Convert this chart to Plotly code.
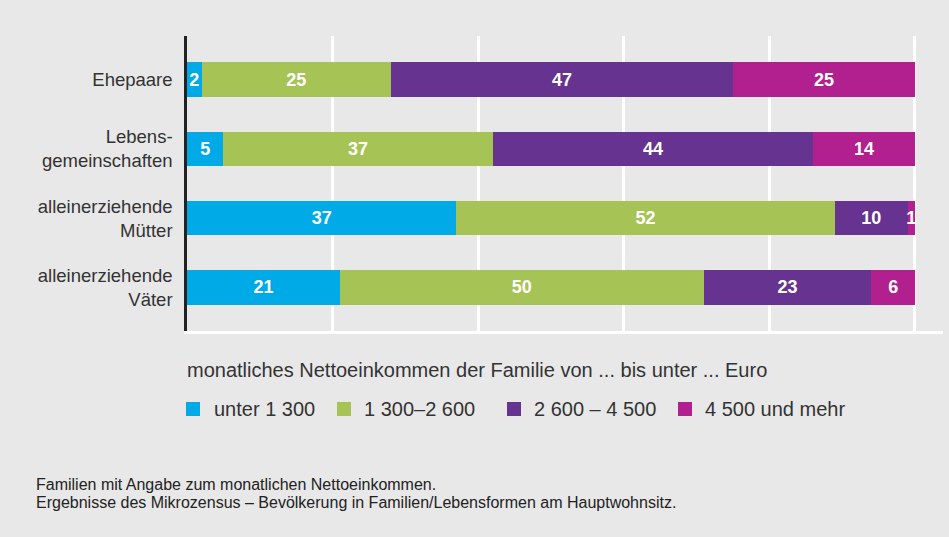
import plotly.graph_objects as go

categories = ["Ehepaare", "Lebens-<br>gemeinschaften", "alleinerziehende<br>Mütter", "alleinerziehende<br>Väter"]
series_names = ["unter 1 300", "1 300–2 600", "2 600 – 4 500", "4 500 und mehr"]
colors = ["#00aae7", "#a6c356", "#663490", "#b21f8f"]

# bar lengths (percent)
unter_1300 = [2, 5, 37, 21]
b1300_2600 = [26, 37, 52, 50]
b2600_4500 = [47, 44, 10, 23]
ab_4500 = [25, 14, 1, 6]
# printed labels
labels_unter_1300 = ["2", "5", "37", "21"]
labels_1300_2600 = ["25", "37", "52", "50"]
labels_2600_4500 = ["47", "44", "10", "23"]
labels_ab_4500 = ["25", "14", "1", "6"]

series_values = [unter_1300, b1300_2600, b2600_4500, ab_4500]
series_labels = [labels_unter_1300, labels_1300_2600, labels_2600_4500, labels_ab_4500]

legend_title = "monatliches Nettoeinkommen der Familie von ... bis unter ... Euro"
footnotes = ["Familien mit Angabe zum monatlichen Nettoeinkommen.",
             "Ergebnisse des Mikrozensus – Bevölkerung in Familien/Lebensformen am Hauptwohnsitz."]

BG = "#e8e8e8"
FONT = "Liberation Sans, Arial, sans-serif"
W, H = 949, 537
L, R, T, B = 187, 6, 36, 206
PW = W - L - R
PH = H - T - B


def px_x(x):
    return (x - L) / PW


def px_y(y):
    return (H - B - y) / PH


fig = go.Figure()
for name, vals, labs, col in zip(series_names, series_values, series_labels, colors):
    fig.add_trace(go.Bar(
        y=categories, x=vals, name=name, orientation="h",
        marker=dict(color=col, line=dict(width=0)),
        text=labs, textposition="inside", insidetextanchor="middle",
        textfont=dict(color="white", size=18, family=FONT, weight="bold"),
        constraintext="none", cliponaxis=False,
        width=0.5, showlegend=False,
    ))

fig.update_layout(
    barmode="stack",
    width=W, height=H,
    margin=dict(l=L, r=R, t=T, b=B, pad=0),
    paper_bgcolor=BG, plot_bgcolor=BG,
    font=dict(family=FONT, color="#333333"),
    uniformtext=dict(mode=False),
)
fig.update_xaxes(
    range=[0, 103.85], showticklabels=False, tickvals=[20, 40, 60, 80, 100],
    showgrid=True, gridcolor="white", gridwidth=2.5,
    showline=True, linecolor="white", linewidth=2.5, zeroline=False, ticks="",
)
fig.update_yaxes(
    categoryorder="array", categoryarray=categories,
    range=[3.63, -0.63], showgrid=False,
    showline=True, linecolor="#222222", linewidth=2.5,
    ticks="", ticklabelstandoff=8,
    tickfont=dict(size=18.5, color="#333333", family=FONT),
)

ann = []
ann.append(dict(text=legend_title, x=px_x(185), y=px_y(370), xref="paper", yref="paper",
                xanchor="left", yanchor="middle", showarrow=False,
                font=dict(size=20, color="#333333", family=FONT)))
sq_x = [186, 337, 507, 678]
txt_x = [212, 362, 532, 703]
shapes = []
for name, col, sx, tx in zip(series_names, colors, sq_x, txt_x):
    shapes.append(dict(type="rect", xref="paper", yref="paper",
                       x0=px_x(sx), x1=px_x(sx + 14), y0=px_y(402), y1=px_y(416),
                       fillcolor=col, line=dict(width=0)))
    ann.append(dict(text=name, x=px_x(tx), y=px_y(409), xref="paper", yref="paper",
                    xanchor="left", yanchor="middle", showarrow=False,
                    font=dict(size=20, color="#333333", family=FONT)))
for i, line in enumerate(footnotes):
    ann.append(dict(text=line, x=px_x(34), y=px_y(484 + 18 * i), xref="paper", yref="paper",
                    xanchor="left", yanchor="middle", showarrow=False,
                    font=dict(size=16, color="#222222", family=FONT)))
fig.update_layout(annotations=ann, shapes=shapes)

fig.write_html("out.html", config={"displayModeBar": False},
               post_script="document.body.style.margin='0';document.body.style.overflow='hidden';")
